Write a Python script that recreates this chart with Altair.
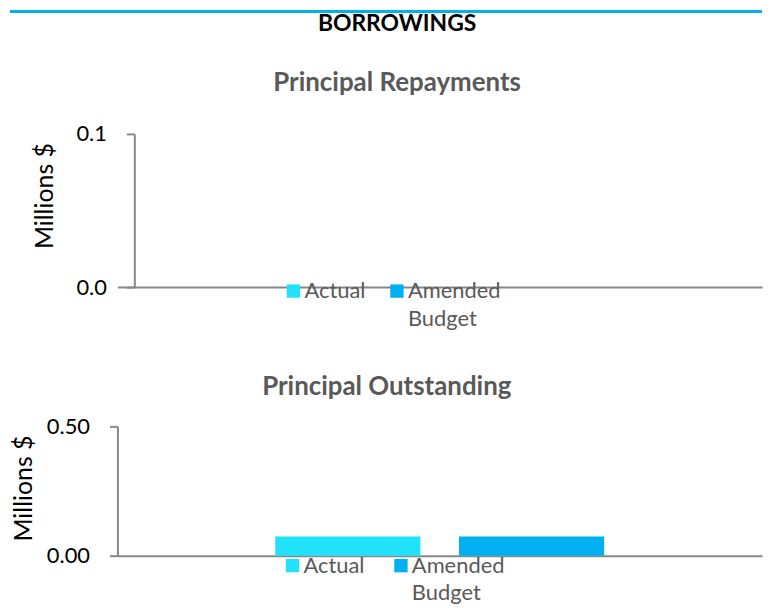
import altair as alt
import pandas as pd

series = ["Actual", "Amended Budget"]
repayments = [0.0, 0.0]
outstanding = [0.074, 0.074]
colors = ["#21E1FB", "#00B0F0"]
rep_ticks = [0.0, 0.1]
out_ticks = [0.0, 0.5]

FONT = "Lato"
GRAY = "#595959"
AXIS = "#888888"
W = 648


def panel(values, ticks, fmt, height, legend_x, legend_y, col_pad, title, title_pad, y_offset):
    df = pd.DataFrame({"cat": ["Q"] * len(series), "series": series, "value": values})
    legend = alt.Legend(
        orient="none", legendX=legend_x, legendY=legend_y, direction="horizontal",
        title=None, symbolType="square", symbolSize=180, symbolStrokeWidth=0,
        labelFont=FONT, labelFontSize=22, labelColor=GRAY, labelBaseline="middle",
        labelExpr="datum.label == 'Amended Budget' ? ['Amended', 'Budget'] : [datum.label, ' ']",
        columnPadding=col_pad, labelOffset=0, labelLimit=300, padding=0,
    )
    return alt.Chart(df).mark_bar().encode(
        x=alt.X("cat:N", scale=alt.Scale(paddingInner=0, paddingOuter=0.48),
                axis=alt.Axis(labels=False, ticks=False, title=None, domainColor=AXIS, domainWidth=2)),
        xOffset=alt.XOffset("series:N", scale=alt.Scale(domain=series, paddingInner=0.21, paddingOuter=0)),
        y=alt.Y("value:Q", scale=alt.Scale(domain=[ticks[0], ticks[-1]], nice=False),
                axis=alt.Axis(values=ticks, format=fmt, title="Millions $", grid=False,
                              domainColor=AXIS, domainWidth=2, tickColor=AXIS, tickWidth=2, tickSize=8,
                              labelFont=FONT, labelFontSize=22, labelColor="#000000", labelPadding=20,
                              titleFont=FONT, titleFontSize=25, titleFontWeight="normal", titleColor="#000000",
                              titlePadding=title_pad, titleY=62, offset=y_offset)),
        color=alt.Color("series:N", scale=alt.Scale(domain=series, range=colors), legend=legend),
    ).properties(width=W, height=height, title=title)


line = alt.Chart(pd.DataFrame({"a": [0]})).mark_rule(color="#00B0F0", strokeWidth=3).encode(
    x=alt.value(-108), x2=alt.value(W), y=alt.value(1)
).properties(width=W, height=2)

top = panel(
    repayments, rep_ticks, ".1f", 154, 166, 147, 20,
    alt.TitleParams(text="BORROWINGS", subtitle="Principal Repayments", anchor="middle", frame="bounds",
                    font=FONT, fontSize=23, fontWeight="bold", color="#000000",
                    subtitleFont=FONT, subtitleFontSize=26, subtitleFontWeight="bold", subtitleColor=GRAY,
                    subtitlePadding=34, offset=27),
    19, -17,
)
bottom = panel(
    outstanding, out_ticks, ".2f", 130, 165, 129, 25,
    alt.TitleParams(text="Principal Outstanding", anchor="middle", frame="bounds",
                    font=FONT, fontSize=26, fontWeight="bold", color=GRAY, offset=16),
    10, 0,
)

inner = alt.vconcat(top, bottom, spacing=44).resolve_scale(color="independent").resolve_legend(color="independent")

chart = alt.vconcat(line, inner, spacing=0).properties(
    padding={"left": 0, "top": 0, "right": 0, "bottom": 0}
).configure(style={"guide-label": {"lineHeight": 28}}).configure_view(stroke=None)

chart.save("out.html", embed_options={"renderer": "svg", "actions": False})
